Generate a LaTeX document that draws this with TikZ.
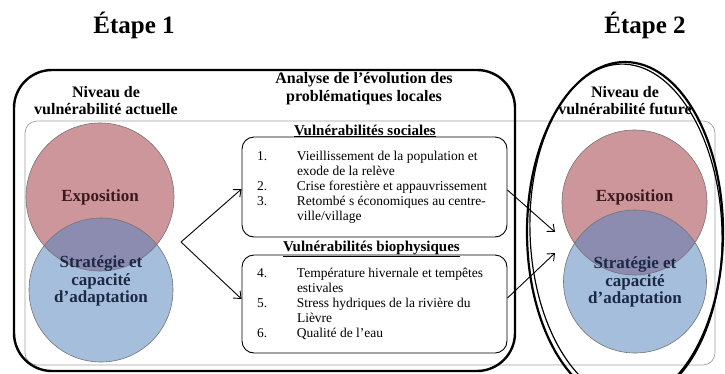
\documentclass[tikz,border=0pt]{standalone}
\usepackage{fontspec}
\setmainfont{Liberation Serif}
\usetikzlibrary{positioning,arrows.meta,calc}

\definecolor{exporose}{RGB}{205,150,155}
\definecolor{stratblue}{RGB}{165,190,220}
\definecolor{lensmauve}{RGB}{140,140,176}
\definecolor{expoink}{RGB}{58,26,30}
\definecolor{stratink}{RGB}{28,40,68}

\begin{document}
\begin{tikzpicture}[x=1pt, y=-1pt,
         etape/.style = {font=\fontsize{25}{28}\selectfont\bfseries, anchor=base},
         niveau/.style = {font=\fontsize{16}{17}\selectfont\bfseries, align=center},
         analyse/.style = {font=\fontsize{16}{18.4}\selectfont\bfseries, align=center},
         expo/.style = {circle, fill=exporose, minimum size=148pt, inner sep=0pt},
         strat/.style = {circle, fill=stratblue, minimum size=144pt, inner sep=0pt},
         rim/.style = {draw=black!55, line width=0.6pt},
         expolabel/.style = {font=\fontsize{17}{17.5}\selectfont\bfseries, text=expoink},
         stratlabel/.style = {font=\fontsize{17}{17.5}\selectfont\bfseries, text=stratink, align=center},
         listbox/.style = {draw, fill=white, rounded corners=12pt, line width=0.9pt,
            minimum width=265pt, inner sep=0pt, font=\fontsize{13.5}{15}\selectfont},
         boxtitle/.style = {font=\fontsize{15}{16}\selectfont\bfseries, anchor=base},
         frame/.style = {line width=2.4pt, rounded corners=38pt},
         link/.style = {line width=0.9pt, -{Straight Barb[length=6pt,width=10pt]}}
]
      \clip (0,0) rectangle (725,373);

      % thin band behind both steps
      \draw[gray!75, line width=0.7pt, rounded corners=12pt] (25,121) rectangle (715,365);

      % step titles
      \node[etape] (etape1) at (134,33) {Étape 1};
      \node[etape] (etape2) at (645,33) {Étape 2};

      % current vulnerability
      \node[expo]  (expo1)  at (100,197) {};
      \node[strat] (strat1) at (101,290) {};
      \begin{scope}
         \clip (expo1.center) circle[radius=74];
         \fill[lensmauve] (strat1.center) circle[radius=72];
      \end{scope}
      \draw[rim] (expo1.center) circle[radius=74] (strat1.center) circle[radius=72];
      \node[expolabel]  (expotext1)  at (expo1.center) {Exposition};
      \node[stratlabel] (strattext1) at ([yshift=9pt]strat1.center)
         {Stratégie et\\capacité\\d’adaptation};
      \node[niveau] (niveau1) at (106,101) {Niveau de\\vulnérabilité actuelle};

      % local problems
      \node[analyse] (analyse) at (364,88.5)
         {Analyse de l'évolution des\\problématiques locales};

      \node[listbox, minimum height=100pt] (social) at (374.5,187) {%
         \begin{tabular}{@{}p{40pt}@{}p{195pt}@{}}
         1. & Vieillissement de la population et\\
            & exode de la relève\\
         2. & Crise forestière et appauvrissement\\
         3. & Retombé s économiques au centre-\\
            & ville/village
         \end{tabular}};
      \node[boxtitle] (socialtitle) at (365,135) {\underline{Vulnérabilités sociales}};

      \node[listbox, minimum height=98pt] (bio) at (374.5,304) {%
         \begin{tabular}{@{}p{40pt}@{}p{195pt}@{}}
         4. & Température hivernale et tempêtes\\
            & estivales\\
         5. & Stress hydriques de la rivière du\\
            & Lièvre\\
         6. & Qualité de l’eau
         \end{tabular}};
      \node[boxtitle] (biotitle) at (371.5,251.5) {\underline{Vulnérabilités biophysiques}};

      % arrows
      \coordinate (fork) at (181,242);
      \coordinate (in1)  at (555,232);
      \coordinate (in2)  at (555,253);
      \draw[link] (fork) -- ([yshift=-2pt]social.west);
      \draw[link] (fork) -- ([yshift=5pt]bio.west);
      \draw[link] ([yshift=-3pt]social.east) -- (in1);
      \draw[link] ([yshift=6pt]bio.east) -- (in2);

      % future vulnerability
      \node[expo, minimum size=145pt]  (expo2)  at (634.5,202.5) {};
      \node[strat, minimum size=143pt] (strat2) at (635,281.5) {};
      \begin{scope}
         \clip (expo2.center) circle[radius=72.5];
         \fill[lensmauve] (strat2.center) circle[radius=71.5];
      \end{scope}
      \draw[rim] (expo2.center) circle[radius=72.5] (strat2.center) circle[radius=71.5];
      \node[expolabel]  (expotext2)  at ([yshift=5pt]expo2.center) {Exposition};
      \node[stratlabel] (strattext2) at (635,282) {Stratégie et\\capacité\\d’adaptation};
      \node[niveau] (niveau2) at (625,101) {Niveau de\\vulnérabilité future};

      % step frames
      \draw[frame] (14,70) rectangle (515,371);
      \draw[line width=2.2pt] (625,232) ellipse[x radius=98, y radius=170];
      \draw[line width=1.2pt, rotate around={2:(626,232)}] (626,232) ellipse[x radius=96, y radius=168];
\end{tikzpicture}
\end{document}
